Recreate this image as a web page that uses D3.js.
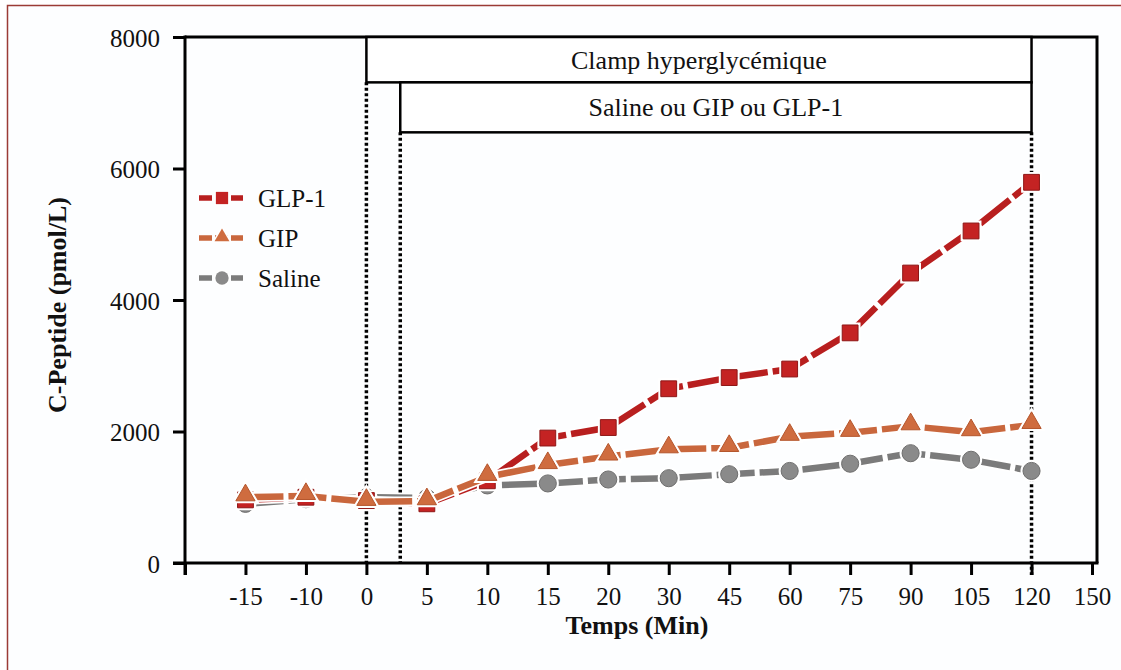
<!DOCTYPE html>
<html>
<head>
<meta charset="utf-8">
<script src="https://cdn.jsdelivr.net/npm/d3@7"></script>
<style>
  body { margin: 0; background: #fff; }
  svg { display: block; font-family: "Liberation Serif", "Times New Roman", serif; }
</style>
</head>
<body>
<div id="graph"></div>
<script>
// categories on the x axis (first slot is empty, it sits on the y axis)
var categories = ["", "-15", "-10", "0", "5", "10", "15", "20", "30", "45", "60", "75", "90", "105", "120", "150"];
var times = ["-15", "-10", "0", "5", "10", "15", "20", "30", "45", "60", "75", "90", "105", "120"];
var yTicks = [0, 2000, 4000, 6000, 8000];

var glp1 = [960, 1000, 950, 900, 1250, 1900, 2060, 2650, 2820, 2950, 3500, 4410, 5050, 5790];
var gip = [1000, 1020, 930, 940, 1310, 1490, 1620, 1730, 1750, 1920, 1980, 2080, 1990, 2100];
var saline = [900, 970, 1000, 990, 1180, 1210, 1270, 1290, 1350, 1400, 1510, 1670, 1570, 1400];

// annotation boxes (start category + fraction of a step, end category, top / bottom value)
var clampBox = {label: "Clamp hyperglycémique", from: "0", shift: 0, to: "120", hi: 8000, lo: 7310};
var infusionBox = {label: "Saline ou GIP ou GLP-1", from: "0", shift: 0.56, to: "120", hi: 7310, lo: 6550};

var width = 1121,
    height = 670,
    svg = d3.select('#graph')
        .append('svg')
        .attr('width', width)
        .attr('height', height);

// outer frame
svg.append('rect')
    .attr('x', 7.5).attr('y', 5.5)
    .attr('width', width).attr('height', height)
    .attr('fill', '#fdfeff')
    .attr('stroke', '#9b3b35')
    .attr('stroke-width', 1.5);

var plotL = 185, plotR = 1092, frameR = 1097, plotT = 37, plotB = 563;

var x = d3.scalePoint().domain(categories).range([plotL, plotR]),
    y = d3.scaleLinear().domain([0, 8000]).range([plotB, plotT]);

var step = x.step();
function boxX(b) { return x(b.from) + b.shift * step; }

// frame lines (top and right)
svg.append('path')
    .attr('d', 'M' + plotL + ',' + plotT + 'H' + frameR + 'V' + plotB)
    .attr('fill', 'none').attr('stroke', '#000').attr('stroke-width', 3);

// y axis
var yAxis = svg.append('g')
    .attr('transform', 'translate(' + plotL + ',0)')
    .call(d3.axisLeft(y).tickValues(yTicks).tickSize(12).tickSizeOuter(0).tickFormat(d3.format('d')));
yAxis.select('.domain').remove();
yAxis.selectAll('.tick line').attr('stroke', '#000').attr('stroke-width', 3);
yAxis.selectAll('.tick text')
    .attr('x', -25).attr('dy', '0.36em')
    .attr('font-size', 25).attr('font-family', '"Liberation Serif", serif').attr('fill', '#111');
svg.append('line')
    .attr('x1', plotL).attr('x2', plotL).attr('y1', plotT - 1.5).attr('y2', plotB + 12)
    .attr('stroke', '#000').attr('stroke-width', 3);

// x axis
var xAxis = svg.append('g')
    .attr('transform', 'translate(0,' + plotB + ')')
    .call(d3.axisBottom(x).tickSize(12).tickSizeOuter(0));
xAxis.select('.domain').remove();
xAxis.selectAll('.tick line').attr('stroke', '#000').attr('stroke-width', 3);
xAxis.selectAll('.tick text')
    .attr('y', 42).attr('dy', 0)
    .attr('font-size', 25).attr('font-family', '"Liberation Serif", serif').attr('fill', '#111');
svg.append('line')
    .attr('x1', plotL - 12).attr('x2', frameR + 1.5).attr('y1', plotB).attr('y2', plotB)
    .attr('stroke', '#000').attr('stroke-width', 3);

// annotation boxes
[clampBox, infusionBox].forEach(function (b) {
    var x0 = boxX(b), x1 = x(b.to);
    svg.append('rect')
        .attr('x', x0).attr('y', y(b.hi))
        .attr('width', x1 - x0).attr('height', y(b.lo) - y(b.hi))
        .attr('fill', '#fff').attr('stroke', '#000').attr('stroke-width', 2.5);
    svg.append('text')
        .attr('x', (x0 + x1) / 2).attr('y', (y(b.hi) + y(b.lo)) / 2 + 9)
        .attr('text-anchor', 'middle')
        .attr('font-size', 26)
        .attr('fill', '#111')
        .text(b.label);
});

// dotted vertical markers
var dotted = [
    {xp: boxX(clampBox), y0: y(clampBox.lo), y1: plotB},
    {xp: boxX(infusionBox), y0: y(infusionBox.lo), y1: plotB},
    {xp: x(infusionBox.to), y0: y(infusionBox.lo), y1: plotB + 12}
];
svg.selectAll('line.dot')
    .data(dotted)
    .enter()
    .append('line')
    .attr('x1', function (d) { return d.xp; })
    .attr('x2', function (d) { return d.xp; })
    .attr('y1', function (d) { return d.y0; })
    .attr('y2', function (d) { return d.y1; })
    .attr('stroke', '#000').attr('stroke-width', 3.5).attr('stroke-dasharray', '3,2.5');

// series
var series = [
    {name: 'Saline', values: saline, line: '#7b7b7b', fill: '#8a8a8a', edge: '#6e6e6e', shape: d3.symbolCircle, size: 230},
    {name: 'GLP-1', values: glp1, line: '#b81f1f', fill: '#c42323', edge: '#8e1717', shape: d3.symbolSquare, size: 250},
    {name: 'GIP', values: gip, line: '#c9673d', fill: '#cf6c3f', edge: '#b4552c', shape: d3.symbolTriangle, size: 160}
];

var line = d3.line()
    .x(function (d, i) { return x(times[i]); })
    .y(function (d) { return y(d); });

function place(s) {
    return function (d, i) {
        var dy = s.shape === d3.symbolTriangle ? -2 : 0;
        return 'translate(' + x(times[i]) + ',' + (y(d) + dy) + ')';
    };
}

series.forEach(function (s) {
    var g = svg.append('g');
    g.append('path')
        .attr('d', line(s.values))
        .attr('fill', 'none').attr('stroke', '#fff').attr('stroke-width', 10)
        .attr('stroke-linejoin', 'round');
    g.append('path')
        .attr('d', line(s.values))
        .attr('fill', 'none').attr('stroke', s.line).attr('stroke-width', 6.5)
        .attr('stroke-dasharray', '38,5');
    var sym = d3.symbol().type(s.shape).size(s.size);
    g.selectAll('path.halo')
        .data(s.values)
        .enter()
        .append('path')
        .attr('class', 'halo')
        .attr('d', sym)
        .attr('transform', place(s))
        .attr('fill', s.fill).attr('stroke', '#fff').attr('stroke-width', 5);
    g.selectAll('path.mark')
        .data(s.values)
        .enter()
        .append('path')
        .attr('class', 'mark')
        .attr('d', sym)
        .attr('transform', place(s))
        .attr('fill', s.fill).attr('stroke', s.edge).attr('stroke-width', 1);
});

// legend
var legendOrder = ['GLP-1', 'GIP', 'Saline'];
var legend = svg.selectAll('g.legend')
    .data(legendOrder.map(function (n) { return series.filter(function (s) { return s.name === n; })[0]; }))
    .enter()
    .append('g')
    .attr('class', 'legend')
    .attr('transform', function (d, i) { return 'translate(222,' + (198 + i * 40) + ')'; });

legend.append('line')
    .attr('x1', -23).attr('x2', 21).attr('y1', 0).attr('y2', 0)
    .attr('stroke', function (d) { return d.line; })
    .attr('stroke-width', 5.5)
    .attr('stroke-dasharray', '13,3');
legend.append('path')
    .attr('d', function (d) { return d3.symbol().type(d.shape).size(d.size * 0.6)(); })
    .attr('transform', function (d) { return d.shape === d3.symbolTriangle ? 'translate(0,-1)' : null; })
    .attr('fill', function (d) { return d.fill; })
    .attr('stroke', '#fff').attr('stroke-width', 3).attr('paint-order', 'stroke');
legend.append('text')
    .attr('x', 36).attr('y', 9)
    .attr('font-size', 25).attr('fill', '#111')
    .text(function (d) { return d.name; });

// axis titles
svg.append('text')
    .attr('x', 637).attr('y', 634)
    .attr('text-anchor', 'middle')
    .attr('font-size', 26).attr('font-weight', 'bold').attr('fill', '#111')
    .text('Temps (Min)');

svg.append('text')
    .attr('transform', 'translate(66,305) rotate(-90)')
    .attr('text-anchor', 'middle')
    .attr('font-size', 26).attr('font-weight', 'bold').attr('fill', '#111')
    .text('C-Peptide (pmol/L)');
</script>
</body>
</html>
